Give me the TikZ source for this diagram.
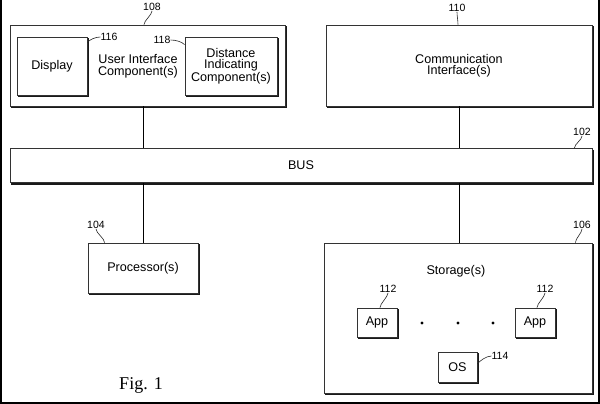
\documentclass[tikz,border=0pt]{standalone}
\usepackage{fontspec}
\setmainfont{Liberation Sans}
\newfontfamily\figserif{Liberation Serif}
\usetikzlibrary{calc}
\begin{document}
\begin{tikzpicture}[x=1pt,y=-1pt,
  box/.style={draw=black!80, line width=0.8pt, fill=white, inner sep=0pt, align=center,
    font=\fontsize{12.6}{11.5}\selectfont},
  shade/.style={draw=black!90, line width=1.5pt},
  lbl/.style={font=\fontsize{10.5}{10}\selectfont, inner sep=0pt},
  lead/.style={draw=black!85, line width=0.6pt},
  conn/.style={draw=black, line width=0.9pt},
  txt/.style={font=\fontsize{12.6}{11.5}\selectfont, align=center, inner sep=0pt}]
\useasboundingbox (0,0) rectangle (600,404);
\draw[line width=1.6pt] (0.8,0) -- (0.8,403.2) -- (599.2,403.2) -- (599.2,0);

% top boxes
\node[box, minimum width=275, minimum height=81] (ui) at (147.5,65.5) {};
\node[box, minimum width=70, minimum height=58] (disp) at (52,66) {Display};
\node[box, minimum width=92, minimum height=58] (dist) at (231,66) {Distance\\Indicating\\Component(s)};
\node[txt] (uitxt) at (138,66) {User Interface\\Component(s)};
\node[box, minimum width=266, minimum height=81] (comm) at (459,65.5) {Communication\\Interface(s)};

% bus
\node[box, minimum width=582, minimum height=34] (bus) at (301,165.5) {BUS};

% bottom boxes
\node[box, minimum width=110, minimum height=50] (proc) at (143,268) {Processor(s)};
\node[box, minimum width=268, minimum height=150] (stor) at (458,318) {};
\node[txt] (stortxt) at (456,271) {Storage(s)};
\node[box, minimum width=40, minimum height=29] (app1) at (377,322.5) {App};
\node[box, minimum width=40, minimum height=29] (app2) at (535,322.5) {App};
\node[box, minimum width=39, minimum height=30] (os) at (457.5,367) {OS};

% shadows on right and bottom edges
\foreach \n in {ui,disp,dist,comm,bus,proc,stor,app1,app2,os}
  \draw[shade] ($(\n.north east)+(1.1,1.5)$) -- ($(\n.south east)+(1.1,1.1)$) -- ($(\n.south west)+(1.5,1.1)$);

% dots
\foreach \xx in {422,458,493} \fill (\xx,323) circle (1.6);

% connectors
\draw[conn] (ui.south -| proc.north) -- (bus.north -| proc.north);
\draw[conn] (bus.south -| proc.north) -- (proc.north);
\draw[conn] (comm.south) -- (bus.north -| comm.south);
\draw[conn] (bus.south -| comm.south) -- (stor.north -| comm.south);

% reference labels
\node[lbl] (l108) at (152,7) {108};
\node[lbl] (l116) at (109,37) {116};
\node[lbl] (l118) at (162,40) {118};
\node[lbl] (l110) at (457,8) {110};
\node[lbl] (l102) at (582,132) {102};
\node[lbl] (l104) at (96,225) {104};
\node[lbl] (l106) at (582,225) {106};
\node[lbl] (l112a) at (388,289) {112};
\node[lbl] (l112b) at (545,289) {112};
\node[lbl] (l114) at (500,356) {114};

\draw[lead] (l108.south) .. controls +(0,4) and +(0,-4) .. ($(ui.north)+(-3.5,0)$);
\draw[lead] (l116.west) .. controls +(-5,0) and +(2,-3) .. ($(disp.north east)+(0,6)$);
\draw[lead] (l118.east) .. controls +(5,0) and +(-3,-3) .. ($(dist.north west)+(0,8)$);
\draw[lead] (l110.south) .. controls +(0,4) and +(0,-4) .. ($(comm.north)+(-1,0)$);
\draw[lead] (l102.south) .. controls +(0,4) and +(0,-4) .. ($(bus.north east)+(-18,0)$);
\draw[lead] (l104.south) .. controls +(0,4) and +(0,-4) .. ($(proc.north west)+(17,0)$);
\draw[lead] (l106.south) .. controls +(0,4) and +(0,-4) .. ($(stor.north east)+(-17,0)$);
\draw[lead] (l112a.south) .. controls +(0,4) and +(0,-4) .. ($(app1.north)+(3,0)$);
\draw[lead] (l112b.south) .. controls +(0,4) and +(0,-4) .. ($(app2.north)+(2,0)$);
\draw[lead] (l114.west) .. controls +(-5,0) and +(2,-3) .. ($(os.east)+(0,-3)$);

\node[font=\figserif\fontsize{18}{18}\selectfont, inner sep=0pt] (fig) at (141,385) {Fig. 1};
\end{tikzpicture}
\end{document}
